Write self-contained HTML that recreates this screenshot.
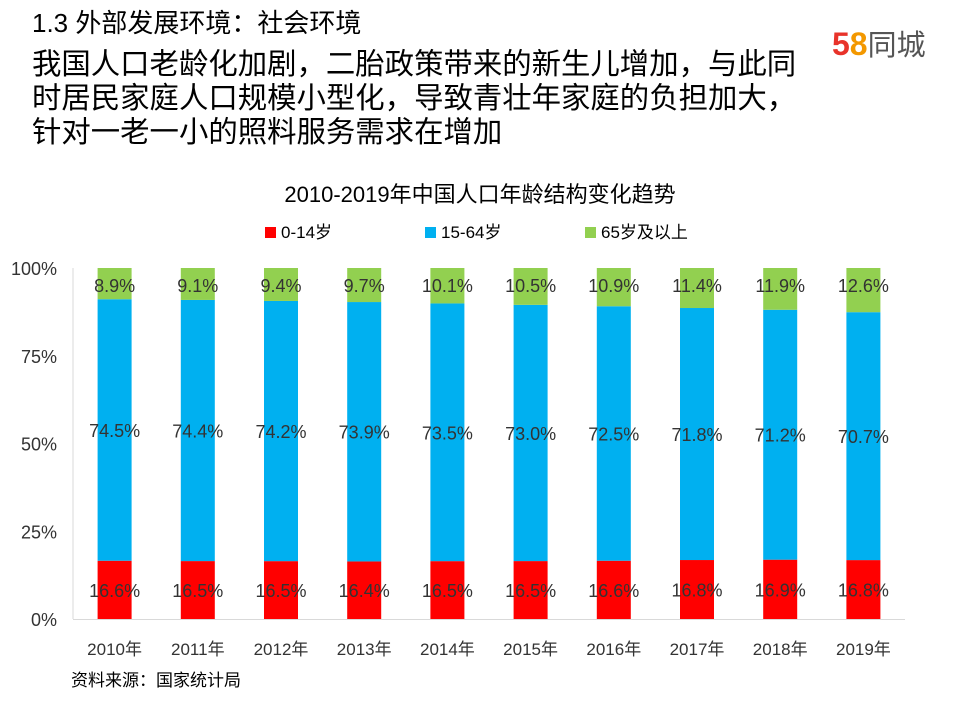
<!DOCTYPE html>
<html><head><meta charset="utf-8"><style>
body{margin:0;width:960px;height:720px;background:#fff;overflow:hidden;font-family:"Liberation Sans","Noto Sans CJK SC",sans-serif;}
.t{position:absolute;left:32px;color:#000;white-space:nowrap;}
</style></head><body>
<div class="t" style="top:6px;font-size:26px;line-height:34px;">1.3 外部发展环境：社会环境</div>
<div class="t" style="top:48px;font-size:29.4px;line-height:34px;">我国人口老龄化加剧，二胎政策带来的新生儿增加，与此同<br>时居民家庭人口规模小型化，导致青壮年家庭的负担加大，<br>针对一老一小的照料服务需求在增加</div>
<div style="position:absolute;left:832px;top:26px;font-size:32px;font-weight:bold;line-height:36px;white-space:nowrap;"><span style="color:#e8332a">5</span><span style="color:#f39800">8</span><span style="color:#555;font-weight:normal;font-size:29px">同城</span></div>
<svg id="c" width="960" height="720" style="position:absolute;left:0;top:0"></svg>
<div style="position:absolute;left:71px;top:666px;font-size:17px;color:#000">资料来源：国家统计局</div>
<script>
const categories=['2010年','2011年','2012年','2013年','2014年','2015年','2016年','2017年','2018年','2019年'];
const young=[16.6,16.5,16.5,16.4,16.5,16.5,16.6,16.8,16.9,16.8];
const working=[74.5,74.4,74.2,73.9,73.5,73.0,72.5,71.8,71.2,70.7];
const old=[8.9,9.1,9.4,9.7,10.1,10.5,10.9,11.4,11.9,12.6];
const yTicks=['0%','25%','50%','75%','100%'];
const NS='http://www.w3.org/2000/svg';
const svg=document.getElementById('c');
const x0=73,x1=905,yTop=268,yBot=619;
const band=(x1-x0)/categories.length;
const xC=i=>x0+band*(i+0.5);
const y=p=>yBot-(yBot-yTop)*p/100;
function mk(t,a){const e=document.createElementNS(NS,t);for(const k in a)e.setAttribute(k,a[k]);svg.appendChild(e);return e;}
let e=mk('text',{x:480,y:202,'text-anchor':'middle','font-size':22,fill:'#000'});e.textContent='2010-2019年中国人口年龄结构变化趋势';

const legend=[['0-14岁','#ff0000',265],['15-64岁','#00b0f0',425],['65岁及以上','#92d050',585]];
legend.forEach(l=>{let g=mk('rect',{x:l[2],y:227,width:11,height:11,fill:l[1]});

let t=mk('text',{x:l[2]+16,y:238,'font-size':17,fill:'#000'});t.textContent=l[0];
});
yTicks.forEach((s,i)=>{let t=mk('text',{x:57,y:y(i*25)+7,'text-anchor':'end','font-size':18,fill:'#333'});t.textContent=s;
});
let ax=mk('line',{x1:x0,y1:yTop,x2:x0,y2:yBot,stroke:'#d9d9d9','stroke-width':1});

let bx=mk('line',{x1:x0,y1:yBot+0.5,x2:x1,y2:yBot+0.5,stroke:'#d9d9d9','stroke-width':1});

const bw=34;
categories.forEach((c,i)=>{
 const tot=young[i]+working[i]+old[i];
 const segs=[[young[i],'#ff0000'],[working[i],'#00b0f0'],[old[i],'#92d050']];
 let acc=0;
 segs.forEach((s,k)=>{const p0=acc/tot*100,p1=(acc+s[0])/tot*100;acc+=s[0];
  let r=mk('rect',{x:xC(i)-bw/2,y:y(p1),width:bw,height:y(p0)-y(p1),fill:s[1]});
  
  const ly=k==2?y(p1)+24:(y(p0)+y(p1))/2+7;
  let t=mk('text',{x:xC(i),y:ly,'text-anchor':'middle','font-size':18,fill:'#333'});t.textContent=s[0].toFixed(1)+'%';
  });
 let t=mk('text',{x:xC(i),y:655,'text-anchor':'middle','font-size':17,fill:'#333'});t.textContent=c;
 
});
</script>
</body></html>
